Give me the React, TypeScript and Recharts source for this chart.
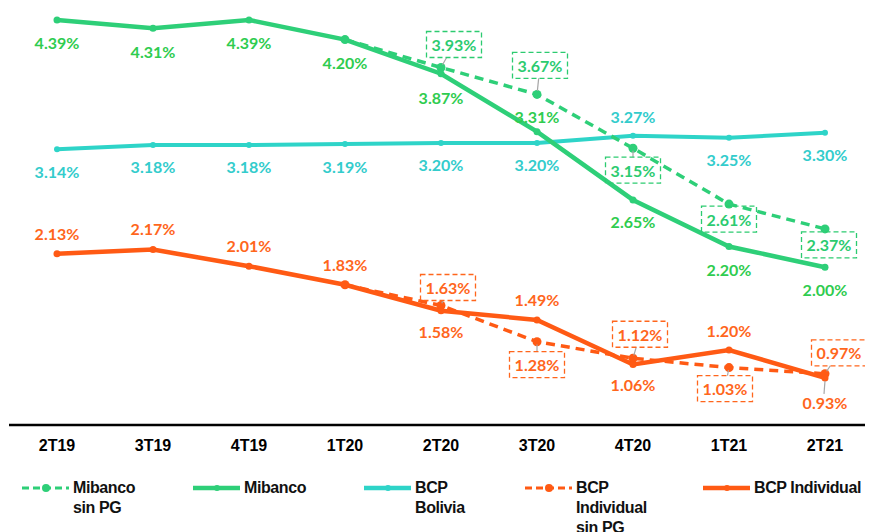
import React from 'react';
import { LineChart, Line, XAxis, YAxis, Legend, LabelList } from 'recharts';

const categories = ['2T19', '3T19', '4T19', '1T20', '2T20', '3T20', '4T20', '1T21', '2T21'];
const mibanco = [4.39, 4.31, 4.39, 4.2, 3.87, 3.31, 2.65, 2.2, 2.0];
const mibancoSinPG = [null, null, null, 4.2, 3.93, 3.67, 3.15, 2.61, 2.37];
const bcpBolivia = [3.14, 3.18, 3.18, 3.19, 3.2, 3.2, 3.27, 3.25, 3.3];
const bcpIndividual = [2.13, 2.17, 2.01, 1.83, 1.58, 1.49, 1.06, 1.2, 0.93];
const bcpIndividualSinPG = [null, null, null, 1.83, 1.63, 1.28, 1.12, 1.03, 0.97];

const GREEN = '#2ecf78';
const GREEN_TXT = '#2fcc4f';
const GREEN_BOX = '#2ccb70';
const CYAN = '#2ed4c8';
const CYAN_TXT = '#33cccc';
const ORANGE = '#ff5a14';
const ORANGE_TXT = '#ff661c';
const LABEL_FONT = 'Lato, "Noto Sans", sans-serif';

const data = categories.map((c, i) => ({
    cat: c,
    mibanco: mibanco[i],
    mibancoSinPG: mibancoSinPG[i],
    bcpBolivia: bcpBolivia[i],
    bcpIndividual: bcpIndividual[i],
    bcpIndividualSinPG: bcpIndividualSinPG[i],
}));

// label offsets from each point (text centre)
const mibancoDy = [23, 23, 23, 23, 24, -15, 22, 23, 22];
const boliviaDy = [22, 21, 21, 22, 21, 21, -19, 22, 22];
const individualDy = [-20, -21, -21, -20, 21, -20, 20, -19, 25];
const mibancoBox: ([number, number] | null)[] = [null, null, null, null, [13, -23], [3, -29], [0, 22], [0, 15], [4, 16]];
const individualBox: ([number, number] | null)[] = [null, null, null, null, [7, -18], [0, 23], [7, -24], [-4, 21], [14, -21]];

const fmt = (v: number) => v.toFixed(2) + '%';

const plainLabel = (dys: number[], color: string, leaders: number[] = []) => (props: any) => {
    const { x, y, value, index } = props;
    if (value == null) return null;
    const dy = dys[index];
    return (
        <g>
            {leaders.includes(index) && (
                <line x1={x} y1={y + 3} x2={x - 1} y2={y + dy - 9} stroke="#a6a6a6" strokeWidth={1.2} />
            )}
            <text x={x} y={y + dy} textAnchor="middle" dominantBaseline="central" fill={color}
                fontFamily={LABEL_FONT} fontWeight={700} fontSize={16}>{fmt(value)}</text>
        </g>
    );
};

const boxLabel = (offs: ([number, number] | null)[], color: string) => (props: any) => {
    const { x, y, value, index } = props;
    const o = offs[index];
    if (value == null || !o) return null;
    const cx = x + o[0];
    const cy = y + o[1];
    const w = 55, h = 26;
    // leader line from point to box edge
    let leader = null;
    const dx = x - cx, dy = y - cy;
    const tx = Math.abs(dx) > 0 ? (w / 2) / Math.abs(dx) : Infinity;
    const ty = Math.abs(dy) > 0 ? (h / 2) / Math.abs(dy) : Infinity;
    const t = Math.min(tx, ty);
    if (t < 0.8) {
        leader = <line x1={cx + dx * t} y1={cy + dy * t} x2={x + (cx - x) * 0.12} y2={y + (cy - y) * 0.12}
            stroke="#a6a6a6" strokeWidth={1.2} />;
    }
    return (
        <g>
            {leader}
            <rect x={cx - w / 2} y={cy - h / 2} width={w} height={h} fill="none" stroke={color}
                strokeWidth={1.3} strokeDasharray="5 3" />
            <text x={cx} y={cy} textAnchor="middle" dominantBaseline="central" fill={color}
                fontFamily={LABEL_FONT} fontWeight={700} fontSize={16}>{fmt(value)}</text>
        </g>
    );
};

const legendItems = [
    { lines: ['Mibanco', 'sin PG'], color: GREEN, dashed: true, left: 14 },
    { lines: ['Mibanco'], color: GREEN, dashed: false, left: 185 },
    { lines: ['BCP', 'Bolivia'], color: CYAN, dashed: false, left: 356 },
    { lines: ['BCP', 'Individual', 'sin PG'], color: ORANGE, dashed: true, left: 517 },
    { lines: ['BCP Individual'], color: ORANGE, dashed: false, left: 695 },
];

const renderLegend = () => (
    <div style={{ position: 'relative', width: 865, height: 60 }}>
        {legendItems.map((it) => (
            <div key={it.lines.join(' ')} style={{ position: 'absolute', left: it.left, top: 0, display: 'flex' }}>
                <svg width={48} height={20} style={{ display: 'block' }}>
                    <line x1={0} y1={10} x2={47} y2={10} stroke={it.color}
                        strokeWidth={it.dashed ? 3 : 4.5} strokeDasharray={it.dashed ? '7 4' : undefined} />
                    <circle cx={24} cy={10} r={it.dashed ? 4 : 3} fill={it.color} />
                </svg>
                <div style={{
                    marginLeft: 3, fontFamily: '"Liberation Sans", Arial, sans-serif', fontWeight: 700,
                    fontSize: 16, lineHeight: '20px', color: '#111', whiteSpace: 'nowrap', letterSpacing: -0.4,
                }}>
                    {it.lines.map((l) => <div key={l}>{l}</div>)}
                </div>
            </div>
        ))}
    </div>
);

export default function App() {
    return (
        <LineChart width={865} height={524} data={data} margin={{ top: 0, right: 0, left: 1, bottom: 77 }}>
            <XAxis dataKey="cat" height={30} axisLine={{ stroke: '#000', strokeWidth: 2.5 }} tickLine={false}
                tickMargin={9} interval={0} padding={{ left: 48, right: 48 }}
                tick={{ fill: '#000', fontSize: 16, fontWeight: 700, fontFamily: '"Liberation Sans", Arial, sans-serif' }} />
            <YAxis hide domain={[0.475, 4.505]} />
            <Legend verticalAlign="middle" layout="horizontal" align="center" content={renderLegend}
                wrapperStyle={{ left: 0, top: 470, width: 865 }} />
            <Line dataKey="bcpBolivia" stroke={CYAN} strokeWidth={4} isAnimationActive={false}
                dot={{ r: 3, fill: CYAN, stroke: CYAN, strokeWidth: 0 }}>
                <LabelList dataKey="bcpBolivia" content={plainLabel(boliviaDy, CYAN_TXT)} />
            </Line>
            <Line dataKey="mibancoSinPG" stroke={GREEN} strokeWidth={3.5} strokeDasharray="9 6" isAnimationActive={false}
                dot={{ r: 4.5, fill: GREEN, stroke: GREEN, strokeWidth: 0 }}>
                <LabelList dataKey="mibancoSinPG" content={boxLabel(mibancoBox, GREEN_BOX)} />
            </Line>
            <Line dataKey="mibanco" stroke={GREEN} strokeWidth={4.5} isAnimationActive={false}
                dot={{ r: 3.5, fill: GREEN, stroke: GREEN, strokeWidth: 0 }}>
                <LabelList dataKey="mibanco" content={plainLabel(mibancoDy, GREEN_TXT)} />
            </Line>
            <Line dataKey="bcpIndividualSinPG" stroke={ORANGE} strokeWidth={3.5} strokeDasharray="9 6" isAnimationActive={false}
                dot={{ r: 4.5, fill: ORANGE, stroke: ORANGE, strokeWidth: 0 }}>
                <LabelList dataKey="bcpIndividualSinPG" content={boxLabel(individualBox, ORANGE_TXT)} />
            </Line>
            <Line dataKey="bcpIndividual" stroke={ORANGE} strokeWidth={4.5} isAnimationActive={false}
                dot={{ r: 3.5, fill: ORANGE, stroke: ORANGE, strokeWidth: 0 }}>
                <LabelList dataKey="bcpIndividual" content={plainLabel(individualDy, ORANGE_TXT, [8])} />
            </Line>
        </LineChart>
    );
}
